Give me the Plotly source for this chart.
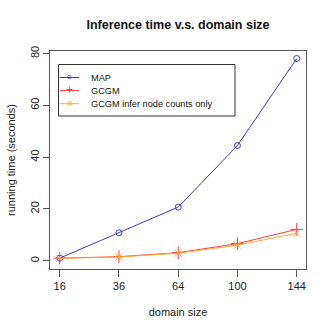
import plotly.graph_objects as go

domain_sizes = ["16", "36", "64", "100", "144"]
x_pos = [1, 2, 3, 4, 5]
map_time = [1.0, 10.8, 20.7, 44.5, 78.1]
gcgm_time = [1.0, 1.55, 3.1, 6.6, 12.1]
gcgm_counts_time = [0.9, 1.45, 2.9, 6.0, 10.6]

series_names = ["MAP", "GCGM", "GCGM infer node counts only"]
series_colors = ["#3b3bc4", "#ff3b3b", "#ffaa33"]
legend_glyphs = ["o", "+", "×"]

FONT = "Liberation Sans, Arial, Helvetica, sans-serif"
W, H = 332, 332
L, R, T, B = 50, 26, 51, 63

fig = go.Figure()
fig.add_trace(go.Scatter(x=x_pos, y=map_time, name=series_names[0], mode="lines+markers",
                         line=dict(color=series_colors[0], width=1),
                         marker=dict(symbol="circle-open", size=6, color=series_colors[0],
                                     line=dict(width=1))))
fig.add_trace(go.Scatter(x=x_pos, y=gcgm_time, name=series_names[1], mode="lines+markers",
                         line=dict(color=series_colors[1], width=1),
                         marker=dict(symbol="cross-thin-open", size=9, color=series_colors[1],
                                     line=dict(width=1, color=series_colors[1]))))
fig.add_trace(go.Scatter(x=x_pos, y=gcgm_counts_time, name=series_names[2],
                         mode="lines+markers",
                         line=dict(color=series_colors[2], width=1),
                         marker=dict(symbol="x-thin-open", size=7, color=series_colors[2],
                                     line=dict(width=1, color=series_colors[2]))))

# R-style legend box drawn by hand (plotly's own legend is too roomy)
pw, ph = W - L - R, H - T - B
def px_x(v):
    return (v - L) / pw
def px_y(v):
    return (H - B - v) / ph

shapes = [dict(type="rect", xref="paper", yref="paper",
               x0=px_x(58.5), x1=px_x(235), y0=px_y(116), y1=px_y(64.5),
               line=dict(color="#333", width=1), fillcolor="white", layer="above")]
annotations = []
for i, (name, col, g) in enumerate(zip(series_names, series_colors, legend_glyphs)):
    ry = 77.5 + i * 13.1
    shapes.append(dict(type="line", xref="paper", yref="paper",
                       x0=px_x(60), x1=px_x(79), y0=px_y(ry), y1=px_y(ry),
                       line=dict(color=col, width=1), layer="above"))
    annotations.append(dict(xref="paper", yref="paper", x=px_x(69.5), y=px_y(ry - 0.5),
                            text=g, showarrow=False, xanchor="center", yanchor="middle",
                            font=dict(size=[8, 12, 10][i], color=col)))
    annotations.append(dict(xref="paper", yref="paper", x=px_x(89), y=px_y(ry),
                            text=name, showarrow=False, xanchor="left", yanchor="middle",
                            font=dict(size=9.2, color="#111")))

fig.update_layout(
    width=W, height=H,
    margin=dict(l=L, r=R, t=T, b=B),
    paper_bgcolor="white", plot_bgcolor="white",
    font=dict(family=FONT, size=11, color="#222"),
    title=dict(text="<b>Inference time v.s. domain size</b>", x=178 / W, xref="container",
               xanchor="center", y=1 - 25 / H, yref="container", yanchor="middle",
               font=dict(size=12.5, color="#111")),
    showlegend=False,
    shapes=shapes,
    annotations=annotations,
)
fig.update_xaxes(range=[0.836, 5.157], tickvals=x_pos, ticktext=domain_sizes,
                 showgrid=False, zeroline=False, showline=True, mirror=True,
                 linecolor="#555", linewidth=1, ticks="outside", ticklen=7,
                 tickcolor="#555",
                 title=dict(text="domain size", standoff=17, font=dict(size=11)))
fig.update_yaxes(range=[-3.2, 81.0], tickvals=[0, 20, 40, 60, 80], tickangle=-90,
                 showgrid=False, zeroline=False, showline=True, mirror=True,
                 linecolor="#555", linewidth=1, ticks="outside", ticklen=6,
                 tickcolor="#555",
                 title=dict(text="running time (seconds)", standoff=10, font=dict(size=11)))

fig.write_html("out.html", config={"displayModeBar": False},
               post_script="document.body.style.margin='0';")
